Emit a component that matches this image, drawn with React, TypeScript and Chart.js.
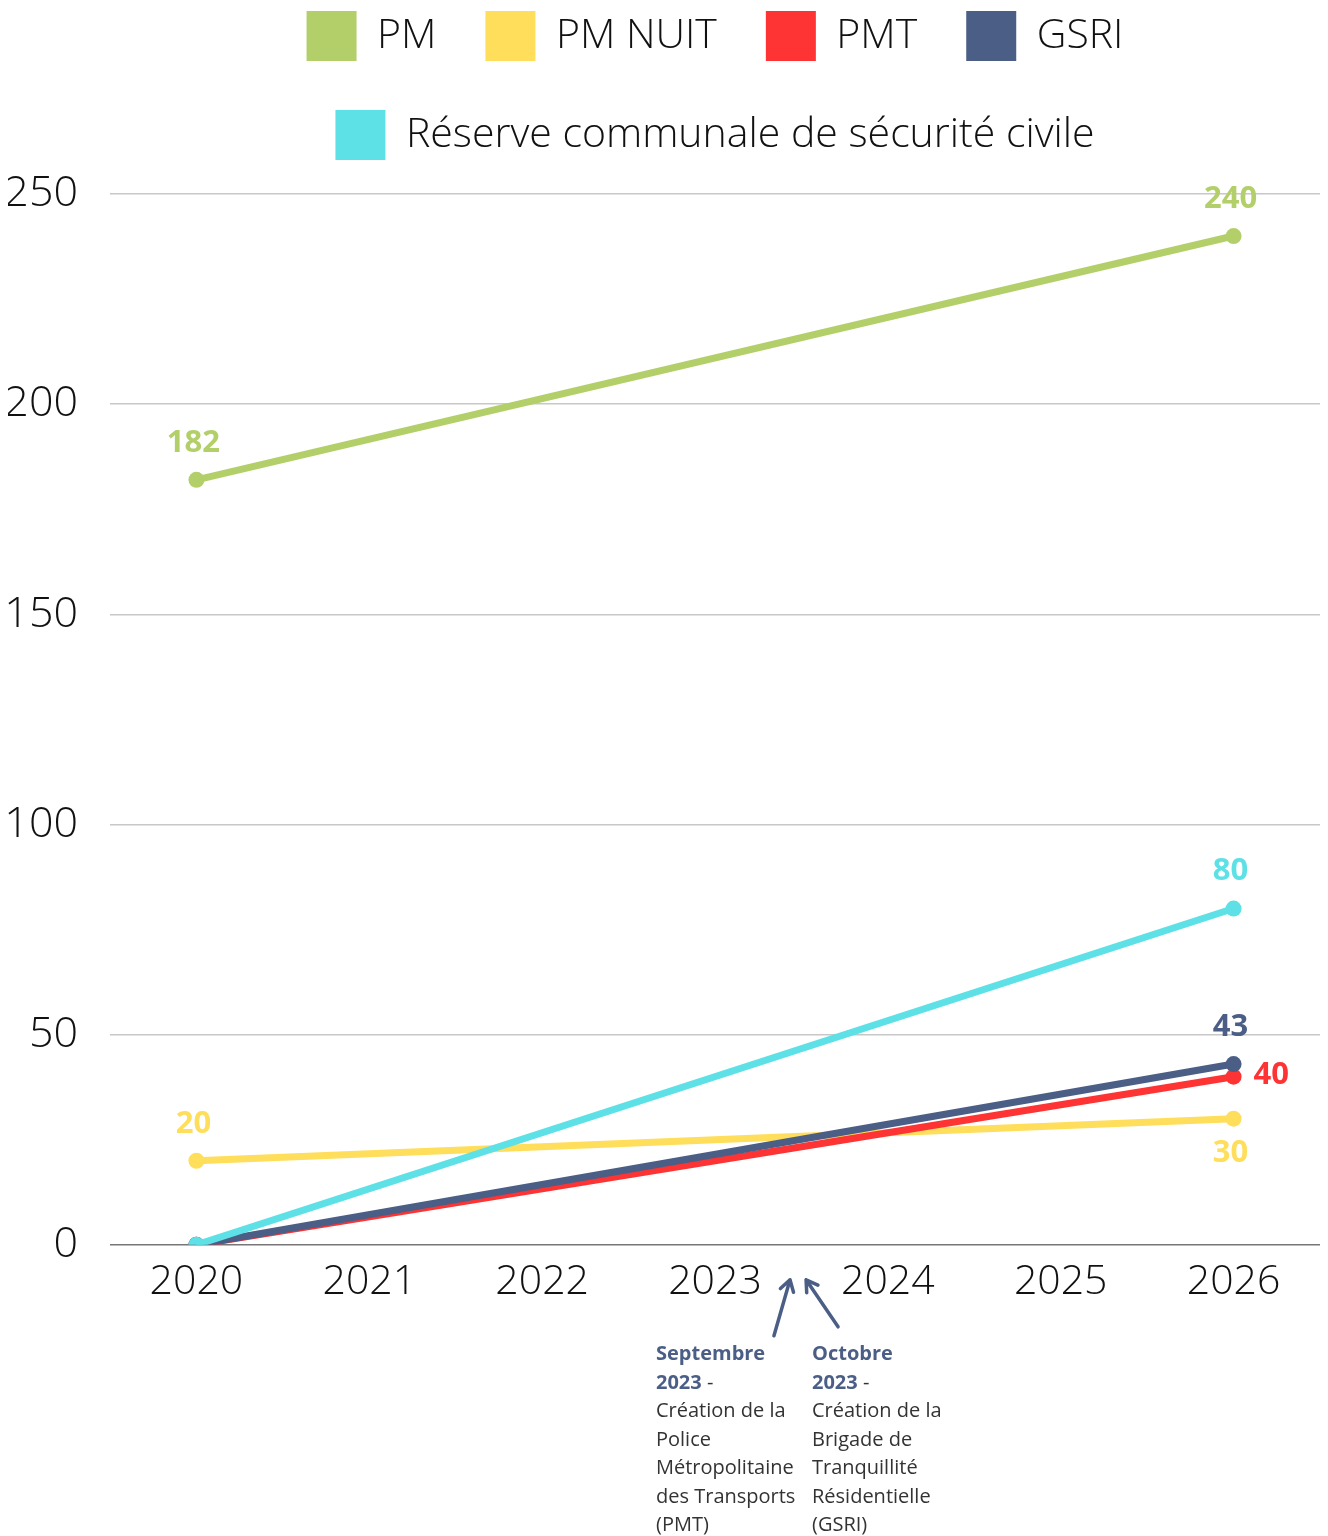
import React, { useEffect, useRef } from "react";
import { Chart, registerables } from "chart.js";

Chart.register(...registerables);

const years = ["2020", "2021", "2022", "2023", "2024", "2025", "2026"];
const seriesNames = ["PM", "PM NUIT", "PMT", "GSRI", "Réserve communale de sécurité civile"];
const pmValues = [182, null, null, null, null, null, 240];
const pmNuitValues = [20, null, null, null, null, null, 30];
const pmtValues = [0, null, null, null, null, null, 40];
const gsriValues = [0, null, null, null, null, null, 43];
const reserveValues = [0, null, null, null, null, null, 80];
const yTickValues = [0, 50, 100, 150, 200, 250];

const seriesColors = ["#b3cf69", "#fede5a", "#fe3333", "#4b5e86", "#5ee1e6"];
const drawOrder = [4, 3, 2, 1, 0];
// label side for [first point, last point]
const labelSides = [
  ["top", "top"],
  ["top", "bottom"],
  ["none", "right"],
  ["none", "top"],
  ["none", "top"],
];
// arrows: [tail x-value, tip x-value, tail dy, tip dy] below the axis
const arrowSpecs = [
  [3.341, 3.434, 91, 35],
  [3.712, 3.527, 82, 35],
];

const NAVY = "#4b5e86";

const valueLabels = {
  id: "valueLabels",
  afterDatasetsDraw(chart: any) {
    const ctx = chart.ctx;
    ctx.save();
    ctx.font = "bold 31px 'Open Sans'";
    chart.data.datasets.forEach((ds: any, di: number) => {
      const meta = chart.getDatasetMeta(di);
      meta.data.forEach((pt: any, i: number) => {
        const v = ds.data[i];
        if (v == null || v === 0) return;
        const side = labelSides[di][i === 0 ? 0 : 1];
        if (side === "none") return;
        ctx.fillStyle = seriesColors[di];
        ctx.textBaseline = "middle";
        if (side === "top") {
          ctx.textAlign = "center";
          ctx.fillText(String(v), pt.x - 3, pt.y - 37);
        } else if (side === "bottom") {
          ctx.textAlign = "center";
          ctx.fillText(String(v), pt.x - 3, pt.y + 34);
        } else {
          ctx.textAlign = "left";
          ctx.fillText(String(v), pt.x + 20, pt.y - 2);
        }
      });
    });
    ctx.restore();
  },
};

const arrows = {
  id: "arrows",
  afterDraw(chart: any) {
    const ctx = chart.ctx;
    const xs = chart.scales.x;
    const bottom = chart.chartArea.bottom;
    ctx.save();
    ctx.strokeStyle = NAVY;
    ctx.lineWidth = 3.5;
    ctx.lineCap = "round";
    ctx.lineJoin = "round";
    arrowSpecs.forEach(([tx, hx, tdy, hdy]) => {
      const x1 = xs.getPixelForValue(tx);
      const y1 = bottom + tdy;
      const x2 = xs.getPixelForValue(hx);
      const y2 = bottom + hdy;
      const ang = Math.atan2(y2 - y1, x2 - x1);
      const L = 13;
      ctx.beginPath();
      ctx.moveTo(x1, y1);
      ctx.lineTo(x2, y2);
      ctx.moveTo(x2 - L * Math.cos(ang - 0.55), y2 - L * Math.sin(ang - 0.55));
      ctx.lineTo(x2, y2);
      ctx.lineTo(x2 - L * Math.cos(ang + 0.55), y2 - L * Math.sin(ang + 0.55));
      ctx.stroke();
    });
    ctx.restore();
  },
};

export default function App() {
  const ref = useRef<HTMLCanvasElement | null>(null);

  useEffect(() => {
    if (!ref.current) return;
    const values = [pmValues, pmNuitValues, pmtValues, gsriValues, reserveValues];
    const chart = new Chart(ref.current, {
      type: "line",
      data: {
        labels: years,
        datasets: values.map((d, i) => ({
          label: seriesNames[i],
          data: d,
          borderColor: seriesColors[i],
          backgroundColor: seriesColors[i],
          pointBackgroundColor: seriesColors[i],
          pointBorderColor: seriesColors[i],
          borderWidth: 7,
          pointRadius: 8,
          pointBorderWidth: 0,
          spanGaps: true,
          tension: 0,
          order: drawOrder[i],
        })),
      },
      options: {
        responsive: false,
        animation: false,
        devicePixelRatio: 1,
        layout: { padding: { top: 0, bottom: 216, left: 0, right: 0 } },
        plugins: {
          legend: {
            position: "top",
            fullSize: false,
            weight: 1000,
            labels: {
              boxWidth: 50,
              boxHeight: 50,
              padding: 49,
              color: "#111",
              font: { family: "'Open Sans'", size: 41, weight: "300" },
              sort: (a: any, b: any) => a.datasetIndex - b.datasetIndex,
              generateLabels: (chart: any) =>
                Chart.defaults.plugins.legend.labels
                  .generateLabels(chart)
                  .map((l: any) => ({ ...l, lineWidth: 0, strokeStyle: "transparent" })),
            },
          },
          title: {
            display: true,
            text: "",
            position: "top",
            fullSize: false,
            weight: 500,
            font: { size: 10 },
            padding: { top: 6, bottom: 6 },
          },
          tooltip: { enabled: false },
        },
        scales: {
          x: {
            offset: true,
            grid: { display: false, drawTicks: false },
            border: { display: false },
            ticks: {
              color: "#111",
              padding: 13,
              font: { family: "'Open Sans'", size: 41, weight: "300" },
              maxRotation: 0,
            },
          },
          y: {
            min: 0,
            max: 250,
            afterBuildTicks: (scale: any) => {
              scale.ticks = yTickValues.map((v) => ({ value: v }));
            },
            afterFit: (scale: any) => {
              scale.width = 102;
            },
            grid: {
              drawTicks: false,
              lineWidth: 1.5,
              color: (c: any) => (c.tick && c.tick.value === 0 ? "#777" : "#c8c8c8"),
            },
            border: { display: false },
            ticks: {
              color: "#111",
              padding: 32,
              font: { family: "'Open Sans'", size: 43, weight: "300" },
            },
          },
        },
      },
      plugins: [valueLabels, arrows],
    } as any);
    return () => chart.destroy();
  }, []);

  const noteStyle: React.CSSProperties = {
    position: "absolute",
    top: 1331,
    fontFamily: "'Open Sans'",
    fontSize: 20,
    lineHeight: "28.5px",
    color: "#333",
    whiteSpace: "nowrap",
  };
  const bold: React.CSSProperties = { fontWeight: 700, color: NAVY };

  return (
    <div style={{ position: "relative", width: 1312, height: 1528, overflow: "visible" }}>
      <canvas
        ref={ref}
        width={1320}
        height={1574}
        style={{ position: "absolute", top: -46, left: 0, width: 1320, height: 1574 }}
      />
      <div style={{ ...noteStyle, left: 648 }}>
        <span style={bold}>Septembre</span>
        <br />
        <span style={bold}>2023</span> -
        <br />
        Création de la
        <br />
        Police
        <br />
        Métropolitaine
        <br />
        des Transports
        <br />
        (PMT)
      </div>
      <div style={{ ...noteStyle, left: 804 }}>
        <span style={bold}>Octobre</span>
        <br />
        <span style={bold}>2023</span> -
        <br />
        Création de la
        <br />
        Brigade de
        <br />
        Tranquillité
        <br />
        Résidentielle
        <br />
        (GSRI)
      </div>
    </div>
  );
}
